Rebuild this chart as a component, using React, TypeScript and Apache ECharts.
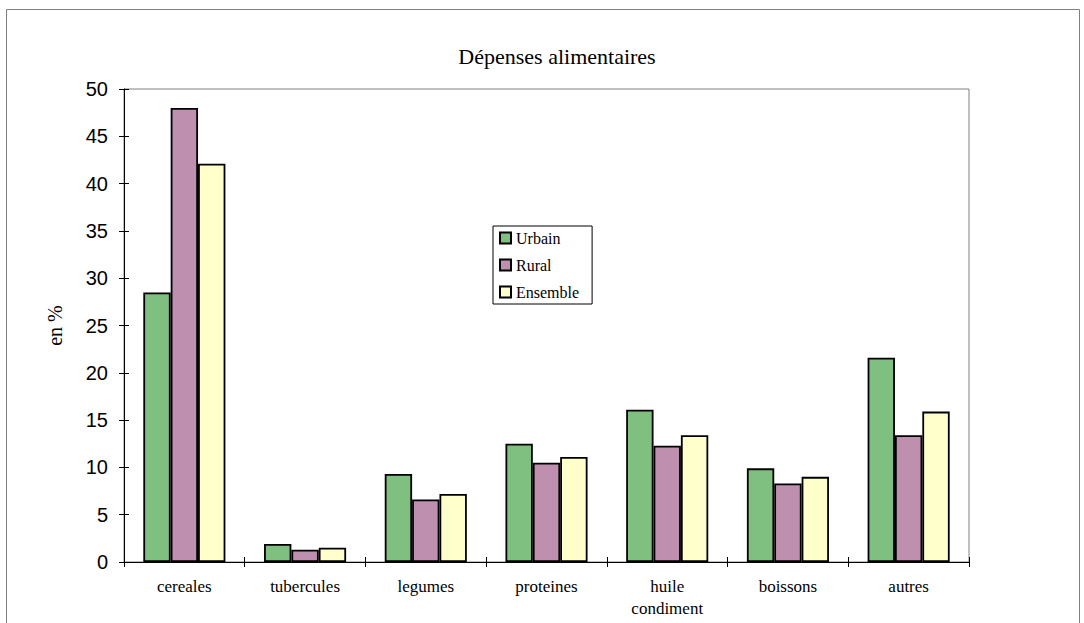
import React, { useEffect, useRef } from "react";
import * as echarts from "echarts";

const categories = ["cereales", "tubercules", "legumes", "proteines", "huile\ncondiment", "boissons", "autres"];
const urbain = [28.5, 1.9, 9.3, 12.5, 16.1, 9.9, 21.6];
const rural = [48.0, 1.3, 6.6, 10.5, 12.3, 8.3, 13.4];
const ensemble = [42.1, 1.5, 7.2, 11.1, 13.4, 9.0, 15.9];
const seriesNames = ["Urbain", "Rural", "Ensemble"];
const colors = ["#7fbf7f", "#bf8faf", "#ffffcc"];

export default function App() {
  const ref = useRef<HTMLDivElement>(null);
  useEffect(() => {
    if (!ref.current) return;
    const chart = echarts.init(ref.current, null, { renderer: "svg" });
    const serif = "'Liberation Serif', 'Times New Roman', serif";
    const sans = "'Liberation Sans', Arial, sans-serif";
    const mk = (name: string, data: number[], color: string) => ({
      name,
      type: "bar",
      data,
      barGap: "0%",
      barCategoryGap: "32%",
      itemStyle: { color, borderColor: "#000", borderWidth: 1.8 },
    });
    chart.setOption({
      animation: false,
      backgroundColor: "#fff",
      title: {
        text: "Dépenses alimentaires",
        left: 552,
        textAlign: "center",
        top: 40,
        textStyle: { fontFamily: serif, fontSize: 22, fontWeight: "normal", color: "#000" },
      },
      graphic: [
        {
          type: "rect",
          shape: { x: 6.5, y: 9.5, width: 1073, height: 640 },
          style: { fill: "none", stroke: "#808080", lineWidth: 1 },
          silent: true,
        },
      ],
      legend: {
        orient: "vertical",
        left: 493,
        top: 226,
        padding: [4, 13, 4, 6],
        itemWidth: 11,
        itemHeight: 11,
        itemGap: 11,
        backgroundColor: "#fff",
        borderColor: "#000",
        borderWidth: 1,
        icon: "rect",
        textStyle: { fontFamily: serif, fontSize: 16, color: "#000" },
        data: seriesNames,
      },
      grid: {
        left: 124,
        top: 89,
        right: 115,
        bottom: 61,
        show: true,
        borderColor: "#808080",
        borderWidth: 1,
      },
      xAxis: [
        {
          type: "category",
          data: categories,
          axisLine: { lineStyle: { color: "#000", width: 1 } },
          axisTick: { show: true, length: 5, inside: false, lineStyle: { color: "#000" } },
          axisLabel: {
            margin: 13,
            fontFamily: serif,
            fontSize: 17,
            color: "#000",
            lineHeight: 22,
            interval: 0,
          },
        },
        {
          type: "category",
          data: categories,
          position: "bottom",
          axisLine: { show: false },
          axisTick: { show: true, length: 5, inside: true, lineStyle: { color: "#000" } },
          axisLabel: { show: false },
        },
      ],
      yAxis: [
        {
          type: "value",
          min: 0,
          max: 50,
          interval: 5,
          name: "en %",
          nameLocation: "middle",
          nameGap: 59,
          nameTextStyle: { fontFamily: serif, fontSize: 20, color: "#000" },
          splitLine: { show: false },
          axisLine: { show: true, lineStyle: { color: "#000", width: 1 } },
          axisTick: { show: true, length: 5, lineStyle: { color: "#000" } },
          axisLabel: { margin: 16, fontFamily: sans, fontSize: 20, color: "#000" },
        },
        {
          type: "value",
          min: 0,
          max: 50,
          interval: 5,
          position: "left",
          splitLine: { show: false },
          axisLine: { show: false },
          axisTick: { show: true, inside: true, length: 5, lineStyle: { color: "#000" } },
          axisLabel: { show: false },
        },
      ],
      series: [mk(seriesNames[0], urbain, colors[0]), mk(seriesNames[1], rural, colors[1]), mk(seriesNames[2], ensemble, colors[2])],
    });
    return () => chart.dispose();
  }, []);
  return <div ref={ref} style={{ position: "absolute", left: 0, top: 0, width: 1084, height: 623 }} />;
}
